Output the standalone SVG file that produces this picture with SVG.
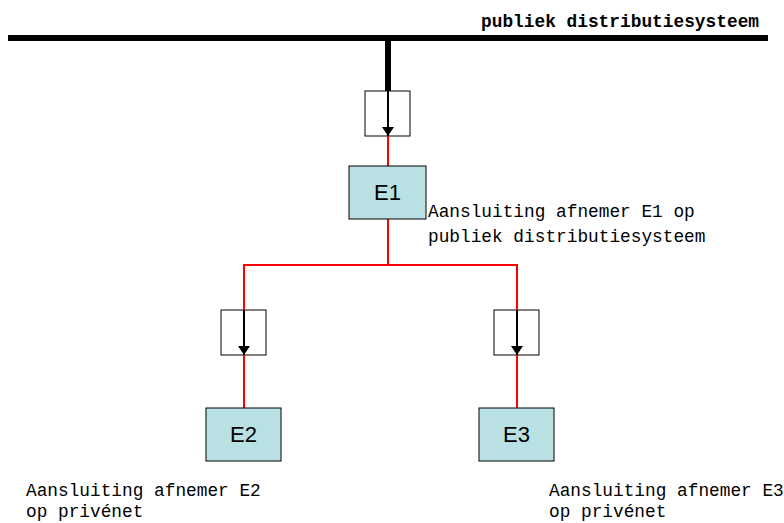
<svg xmlns="http://www.w3.org/2000/svg" width="784" height="523" viewBox="0 0 784 523">
  <style>
    .lbl { font-family: "Liberation Mono", "DejaVu Sans Mono", monospace; font-size: 17.8px; fill: #000; }
    .node rect.cust { fill: #b9e0e3; stroke: #000; stroke-width: 1; }
    .node text { font-family: "Liberation Sans", Arial, sans-serif; font-size: 22px; fill: #000; text-anchor: middle; }
    .meter { fill: #fff; stroke: #000; stroke-width: 1; }
    .feed { stroke: #ff0000; stroke-width: 2; fill: none; }
    .flow { stroke: #000; stroke-width: 2; fill: none; }
  </style>
  <defs>
    <marker id="arrow" viewBox="0 0 10 10" refX="10" refY="5" markerWidth="4.5" markerHeight="6" markerUnits="strokeWidth" orient="auto" preserveAspectRatio="none">
      <path d="M0,0 L10,5 L0,10 z" fill="#000"/>
    </marker>
  </defs>

  <!-- public distribution bus -->
  <g id="bus">
    <line x1="8" y1="38" x2="768" y2="38" stroke="#000" stroke-width="6"/>
    <text class="lbl" x="481" y="27" font-weight="bold" textLength="278">publiek distributiesysteem</text>
  </g>

  <!-- meters -->
  <g id="meter1"><rect class="meter" x="365" y="91" width="45" height="45"/></g>
  <g id="meter2"><rect class="meter" x="221" y="310" width="45" height="45"/></g>
  <g id="meter3"><rect class="meter" x="494" y="310" width="45" height="45"/></g>

  <!-- connectors -->
  <g id="connectors">
    <line x1="388" y1="38" x2="388" y2="91" stroke="#000" stroke-width="6"/>
    <line class="flow" x1="388" y1="91" x2="388" y2="136" marker-end="url(#arrow)"/>
    <line class="feed" x1="388" y1="136" x2="388" y2="166"/>
    <polyline class="feed" points="388,219 388,265"/>
    <polyline class="feed" points="244,310 244,265 517,265 517,310"/>
    <line class="flow" x1="244" y1="310" x2="244" y2="355" marker-end="url(#arrow)"/>
    <line class="flow" x1="517" y1="310" x2="517" y2="355" marker-end="url(#arrow)"/>
    <line class="feed" x1="244" y1="355" x2="244" y2="408"/>
    <line class="feed" x1="517" y1="355" x2="517" y2="408"/>
  </g>

  <!-- customers -->
  <g id="E1" class="node">
    <rect class="cust" x="349" y="166" width="77" height="53"/>
    <text x="387.5" y="200">E1</text>
  </g>
  <g id="E2" class="node">
    <rect class="cust" x="206" y="408" width="75" height="53"/>
    <text x="243.5" y="442">E2</text>
  </g>
  <g id="E3" class="node">
    <rect class="cust" x="479" y="408" width="75" height="53"/>
    <text x="516.5" y="442">E3</text>
  </g>

  <!-- captions -->
  <g id="caption-E1">
    <text class="lbl" x="428" y="217">Aansluiting afnemer E1 op</text>
    <text class="lbl" x="428" y="242">publiek distributiesysteem</text>
  </g>
  <g id="caption-E2">
    <text class="lbl" x="26" y="496">Aansluiting afnemer E2</text>
    <text class="lbl" x="26" y="517">op privénet</text>
  </g>
  <g id="caption-E3">
    <text class="lbl" x="549" y="496">Aansluiting afnemer E3</text>
    <text class="lbl" x="549" y="517">op privénet</text>
  </g>
</svg>
